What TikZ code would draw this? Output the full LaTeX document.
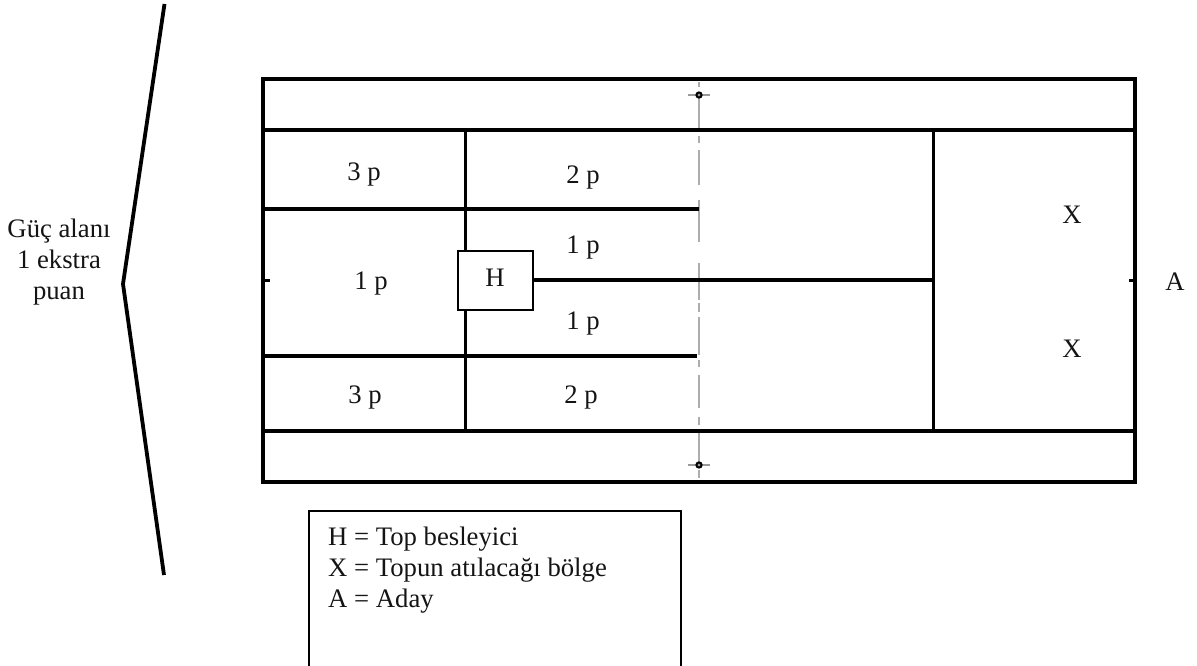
\documentclass[tikz,border=0pt]{standalone}
\usepackage{fontspec}
\setmainfont{Liberation Serif}
\tikzset{
  x=1pt,y=-1pt,
  court/.style={line width=3.4pt,black},
  inner/.style={line width=3pt,black},
  netline/.style={line width=2pt,black!32},
  lbl/.style={font=\fontsize{26.7}{31}\selectfont,inner sep=0pt,text=black!92},
  pts/.style={lbl,anchor=base},
  hbox/.style={draw=black,line width=2pt,fill=white,minimum width=75pt,minimum height=59pt,inner sep=0pt},
  legendline/.style={line width=2pt,black},
}
\begin{document}
\begin{tikzpicture}
\useasboundingbox (0,0) rectangle (1197,666);
\coordinate (tl) at (263,79);
\coordinate (br) at (1135,482);
% net
\foreach \a/\b in {82/87,95/130,136/143,150/185,200/242,263/300,303/312,317/355,360/367,375/408,417/425,431/465,470/478}{
  \draw[netline] (699,\a) -- (699,\b);
}
\foreach \n/\y in {pt/95,pb/465}{
  \draw[line width=1.2pt,black!40] (688,\y) -- (710,\y);
  \draw[line width=2pt,black,fill=black!40] (699,\y) circle (2.6pt);
  \coordinate (\n) at (699,\y);
}
% court
\draw[court] (tl) rectangle (br);
\draw[court] (263,130) -- (1135,130);
\draw[court] (263,431) -- (1135,431);
\draw[inner] (465,130) -- (465,431);
\draw[inner] (933,130) -- (933,431);
\draw[court] (263,209) -- (699,209);
\draw[court] (263,356) -- (697,356);
\draw[line width=3pt] (263,280.5) -- (270,280.5);
\draw[line width=3pt] (1129,280.5) -- (1135,280.5);
% H
\node[hbox] (H) at (495,280) {};
\draw[court] (H.east) -- (933,280);
\node[pts] (Hl) at (495,286) {H};
% zone labels
\node[pts] (a1) at (364,181) {3 p};
\node[pts] (a2) at (371,289) {1 p};
\node[pts] (a3) at (365,403) {3 p};
\node[pts] (b1) at (583,183) {2 p};
\node[pts] (b2) at (583,253) {1 p};
\node[pts] (b3) at (583,329) {1 p};
\node[pts] (b4) at (581,403) {2 p};
\node[pts] (x1) at (1072,223) {X};
\node[pts] (x2) at (1072,357) {X};
\node[pts] (A) at (1175,290) {A};
% bracket
\coordinate (b0) at (164.5,4);
\coordinate (bm) at (123,284);
\coordinate (be) at (164,575);
\draw[line width=3.8pt,line join=miter] (b0) -- (bm) -- (be);
\node[lbl,align=center,anchor=north] (G) at (59,218.5) {Güç alanı\\1 ekstra\\puan};
% legend
\coordinate (l1) at (309,666);
\coordinate (l2) at (309,510.5);
\coordinate (l3) at (681,510.5);
\coordinate (l4) at (681,666);
\draw[legendline] (l1) -- (l2) -- (l3) -- (l4);
\node[lbl,align=left,anchor=north west] (L) at (328,527) {H = Top besleyici\\X = Topun atılacağı bölge\\A = Aday};
\end{tikzpicture}
\end{document}
